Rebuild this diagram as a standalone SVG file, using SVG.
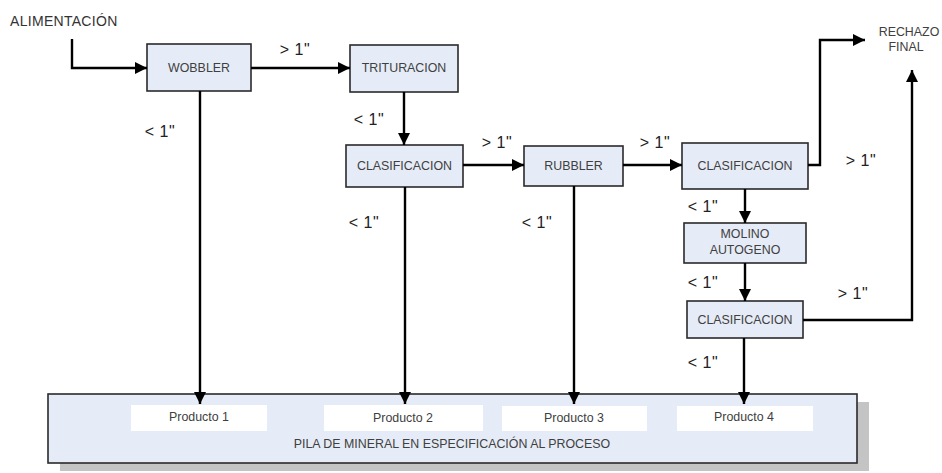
<svg xmlns="http://www.w3.org/2000/svg" width="942" height="473" viewBox="0 0 942 473">
  <style>
    .box { fill: #e6ecf7; stroke: #2a2a2a; stroke-width: 1.6; }
    .shadow { fill: #c4c4c4; }
    .btxt { font-family: "Liberation Sans", Arial, sans-serif; font-size: 12.4px; fill: #404040; text-anchor: middle; dominant-baseline: central; }
    .lbl { font-family: "Liberation Sans", Arial, sans-serif; font-size: 16px; fill: #222; text-anchor: middle; dominant-baseline: central; letter-spacing: 0.5px; }
    .cap { font-family: "Liberation Sans", Arial, sans-serif; font-size: 14px; fill: #333; text-anchor: start; dominant-baseline: central; letter-spacing: 0.3px; }
    .wire { fill: none; stroke: #000; stroke-width: 2.4; marker-end: url(#head); }
    .slot { fill: #ffffff; }
  </style>
  <defs>
    <marker id="head" markerUnits="userSpaceOnUse" viewBox="0 0 12 12" refX="12" refY="6" markerWidth="12" markerHeight="12" orient="auto">
      <path d="M0,0 L12,6 L0,12 z" fill="#000"/>
    </marker>
  </defs>

  <rect width="942" height="473" fill="#ffffff"/>

  <!-- stockpile at the bottom -->
  <g id="pila">
    <rect class="shadow" x="60" y="402" width="809" height="69"/>
    <rect class="box" x="48" y="394" width="809" height="69"/>
    <rect class="slot" x="131" y="405" width="136" height="26"/>
    <rect class="slot" x="324" y="405" width="159" height="26"/>
    <rect class="slot" x="502" y="406" width="145" height="25"/>
    <rect class="slot" x="677" y="406" width="136" height="25"/>
    <text class="btxt" x="199" y="417">Producto 1</text>
    <text class="btxt" x="403" y="418">Producto 2</text>
    <text class="btxt" x="574" y="418">Producto 3</text>
    <text class="btxt" x="744" y="417">Producto 4</text>
    <text class="btxt" x="452" y="444">PILA DE MINERAL EN ESPECIFICACIÓN AL PROCESO</text>
  </g>

  <!-- free-standing captions -->
  <g id="alimentacion">
    <text class="cap" x="10" y="21">ALIMENTACIÓN</text>
  </g>
  <g id="rechazo">
    <text class="btxt" x="909" y="32">RECHAZO</text>
    <text class="btxt" x="906" y="47">FINAL</text>
  </g>

  <!-- process units -->
  <g id="wobbler">
    <rect class="box" x="147" y="44" width="104" height="47"/>
    <text class="btxt" x="199" y="68">WOBBLER</text>
  </g>
  <g id="trituracion">
    <rect class="box" x="350" y="45" width="108" height="47"/>
    <text class="btxt" x="404" y="68">TRITURACION</text>
  </g>
  <g id="clasificacion1">
    <rect class="box" x="346" y="145" width="117" height="42"/>
    <text class="btxt" x="404.5" y="166">CLASIFICACION</text>
  </g>
  <g id="rubbler">
    <rect class="box" x="524" y="146" width="99" height="40"/>
    <text class="btxt" x="573.5" y="166">RUBBLER</text>
  </g>
  <g id="clasificacion2">
    <rect class="box" x="682" y="143" width="126" height="46"/>
    <text class="btxt" x="745" y="166">CLASIFICACION</text>
  </g>
  <g id="molino">
    <rect class="box" x="684" y="223" width="122" height="40"/>
    <text class="btxt" x="745" y="234">MOLINO</text>
    <text class="btxt" x="745" y="250">AUTOGENO</text>
  </g>
  <g id="clasificacion3">
    <rect class="box" x="687" y="301" width="116" height="37"/>
    <text class="btxt" x="745" y="319.5">CLASIFICACION</text>
  </g>

  <!-- connectors -->
  <g id="connectors">
    <path class="wire" d="M72,39 V68 H147"/>
    <path class="wire" d="M251,68 H350"/>
    <path class="wire" d="M404,92 V145"/>
    <path class="wire" d="M463,165 H524"/>
    <path class="wire" d="M623,165 H682"/>
    <path class="wire" d="M808,165 H820 V40 H865"/>
    <path class="wire" d="M745,189 V223"/>
    <path class="wire" d="M745,263 V301"/>
    <path class="wire" d="M803,320 H912 V70"/>
    <path class="wire" d="M200,91 V404"/>
    <path class="wire" d="M405,187 V404"/>
    <path class="wire" d="M574,186 V404"/>
    <path class="wire" d="M744,338 V404"/>
  </g>

  <!-- size labels -->
  <g id="labels">
    <text class="lbl" x="295" y="49">&gt; 1"</text>
    <text class="lbl" x="160" y="131">&lt; 1"</text>
    <text class="lbl" x="369" y="119">&lt; 1"</text>
    <text class="lbl" x="497" y="142">&gt; 1"</text>
    <text class="lbl" x="655" y="142">&gt; 1"</text>
    <text class="lbl" x="861" y="160">&gt; 1"</text>
    <text class="lbl" x="364" y="222">&lt; 1"</text>
    <text class="lbl" x="537" y="222">&lt; 1"</text>
    <text class="lbl" x="703" y="206">&lt; 1"</text>
    <text class="lbl" x="703" y="282">&lt; 1"</text>
    <text class="lbl" x="853" y="293">&gt; 1"</text>
    <text class="lbl" x="703" y="362">&lt; 1"</text>
  </g>
</svg>
